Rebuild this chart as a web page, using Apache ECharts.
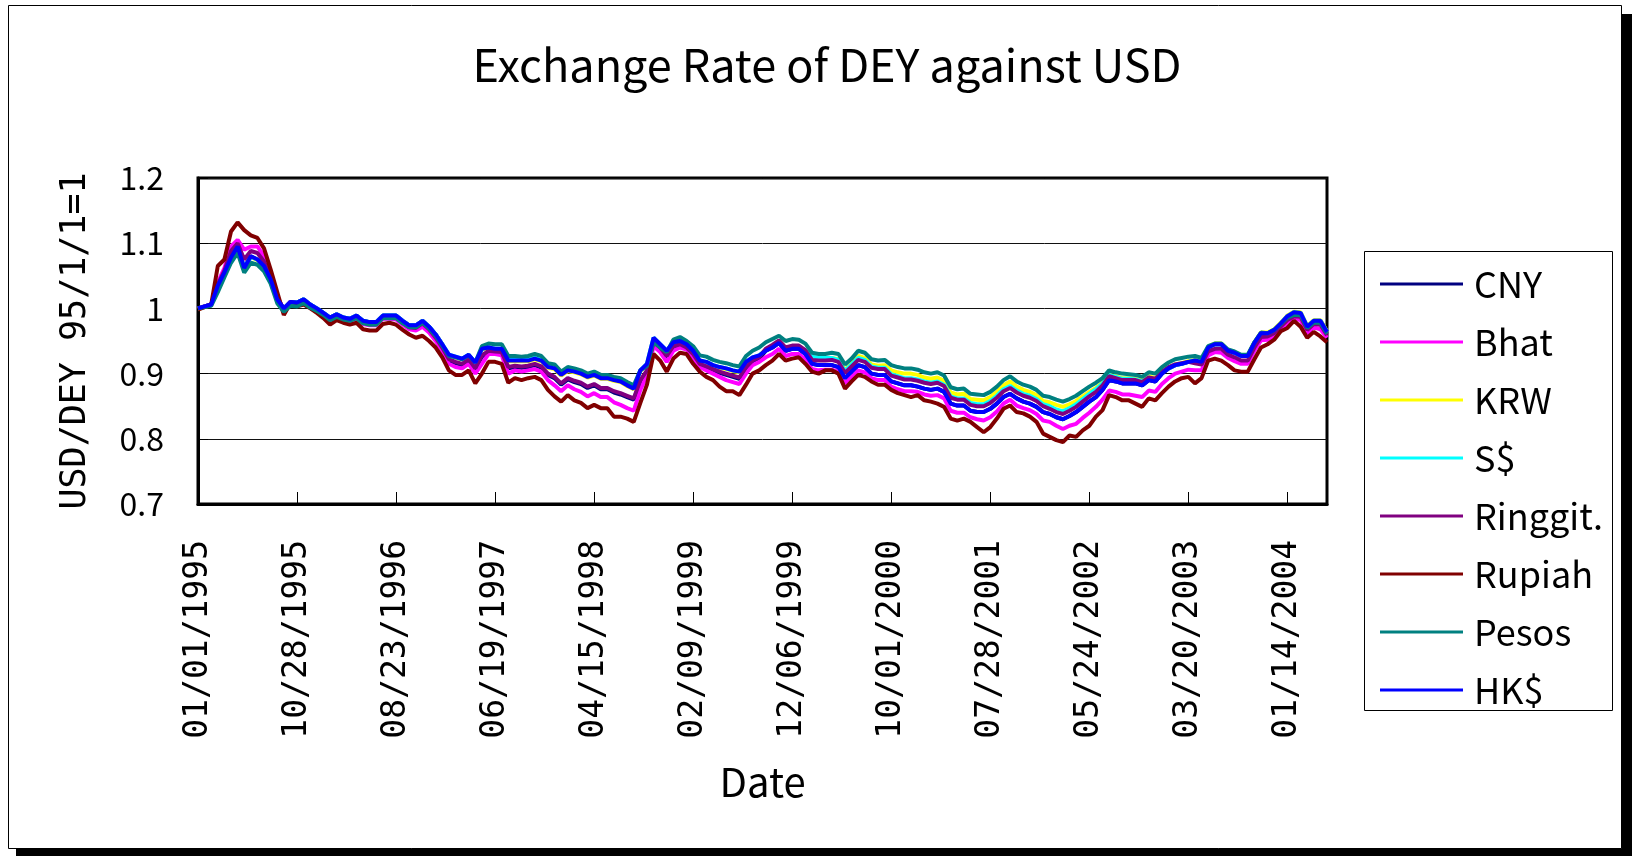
<!DOCTYPE html>
<html>
<head>
<meta charset="utf-8">
<script src="https://cdn.jsdelivr.net/npm/echarts@6/dist/echarts.min.js"></script>
<style>
  html, body { margin: 0; padding: 0; background: #fff; }
  #chart { width: 1638px; height: 856px; }
</style>
</head>
<body>
<div id="chart"></div>
<script>
// Sampled every 20 days starting 01/01/1995; tick labels fall every 15th sample (300 days).
const START_DATE = Date.UTC(1995, 0, 1);
const STEP_DAYS = 20;
const LABEL_EVERY = 15;

const seriesNames = ['CNY', 'Bhat', 'KRW', 'S$', 'Ringgit.', 'Rupiah', 'Pesos', 'HK$'];
const seriesColors = ['#000080', '#FF00FF', '#FFFF00', '#00FFFF', '#800080', '#800000', '#008080', '#0000FF'];
const yTicks = [0.7, 0.8, 0.9, 1.0, 1.1, 1.2];

const cny = [
  1.000, 1.003, 1.006, 1.035, 1.055, 1.078, 1.095, 1.062, 1.080, 1.075,
  1.065, 1.045, 1.014, 1.000, 1.010, 1.009, 1.014, 1.006, 1.000, 0.993,
  0.986, 0.991, 0.986, 0.984, 0.989, 0.981, 0.979, 0.979, 0.989, 0.989,
  0.989, 0.981, 0.974, 0.974, 0.981, 0.972, 0.960, 0.945, 0.920, 0.916,
  0.913, 0.920, 0.906, 0.926, 0.933, 0.932, 0.931, 0.908, 0.910, 0.909,
  0.910, 0.913, 0.909, 0.898, 0.893, 0.883, 0.891, 0.887, 0.884, 0.878,
  0.882, 0.876, 0.876, 0.871, 0.868, 0.864, 0.860, 0.888, 0.903, 0.946,
  0.938, 0.925, 0.940, 0.943, 0.938, 0.928, 0.913, 0.909, 0.905, 0.901,
  0.898, 0.895, 0.892, 0.908, 0.918, 0.923, 0.935, 0.940, 0.947, 0.935,
  0.938, 0.938, 0.930, 0.915, 0.913, 0.913, 0.913, 0.910, 0.893, 0.903,
  0.913, 0.910, 0.900, 0.898, 0.898, 0.888, 0.885, 0.882, 0.882, 0.880,
  0.877, 0.875, 0.877, 0.872, 0.854, 0.851, 0.851, 0.843, 0.841, 0.841,
  0.846, 0.854, 0.864, 0.869, 0.862, 0.857, 0.854, 0.849, 0.841, 0.838,
  0.833, 0.830, 0.835, 0.841, 0.849, 0.857, 0.864, 0.875, 0.890, 0.888,
  0.885, 0.885, 0.885, 0.882, 0.890, 0.888, 0.900, 0.908, 0.913, 0.915,
  0.918, 0.920, 0.918, 0.940, 0.945, 0.945, 0.935, 0.932, 0.927, 0.927,
  0.947, 0.962, 0.962, 0.967, 0.977, 0.988, 0.994, 0.993, 0.972, 0.981,
  0.981, 0.964
];

const bhat = [
  1.000, 1.003, 1.006, 1.040, 1.062, 1.095, 1.105, 1.090, 1.095, 1.095,
  1.080, 1.050, 1.018, 0.998, 1.010, 1.007, 1.012, 1.004, 0.998, 0.990,
  0.982, 0.988, 0.983, 0.980, 0.985, 0.976, 0.974, 0.974, 0.984, 0.984,
  0.983, 0.975, 0.968, 0.966, 0.972, 0.963, 0.950, 0.935, 0.915, 0.910,
  0.908, 0.915, 0.900, 0.915, 0.930, 0.930, 0.928, 0.900, 0.905, 0.903,
  0.905, 0.907, 0.903, 0.890, 0.882, 0.873, 0.882, 0.876, 0.872, 0.865,
  0.870, 0.864, 0.864, 0.856, 0.852, 0.847, 0.843, 0.875, 0.898, 0.942,
  0.933, 0.918, 0.935, 0.940, 0.937, 0.925, 0.910, 0.905, 0.900, 0.895,
  0.890, 0.887, 0.884, 0.900, 0.913, 0.918, 0.925, 0.930, 0.938, 0.927,
  0.930, 0.930, 0.922, 0.907, 0.905, 0.906, 0.906, 0.903, 0.885, 0.895,
  0.905, 0.902, 0.893, 0.890, 0.890, 0.880, 0.876, 0.873, 0.873, 0.872,
  0.868, 0.866, 0.867, 0.862, 0.843, 0.840, 0.840, 0.833, 0.830, 0.828,
  0.833, 0.842, 0.854, 0.860, 0.851, 0.847, 0.844, 0.838, 0.828, 0.826,
  0.820, 0.815, 0.820, 0.823, 0.832, 0.840, 0.849, 0.860, 0.874, 0.872,
  0.868, 0.868, 0.866, 0.864, 0.874, 0.872, 0.884, 0.893, 0.900, 0.903,
  0.906, 0.905, 0.905, 0.928, 0.933, 0.932, 0.924, 0.919, 0.915, 0.915,
  0.935, 0.951, 0.952, 0.958, 0.968, 0.976, 0.984, 0.982, 0.962, 0.971,
  0.968, 0.955
];

const krw = [
  0.999, 1.002, 1.005, 1.034, 1.054, 1.077, 1.094, 1.061, 1.079, 1.074,
  1.064, 1.044, 1.013, 0.999, 1.009, 1.008, 1.013, 1.005, 0.999, 0.992,
  0.985, 0.990, 0.985, 0.983, 0.988, 0.980, 0.978, 0.978, 0.988, 0.988,
  0.988, 0.980, 0.973, 0.973, 0.980, 0.971, 0.959, 0.944, 0.928, 0.925,
  0.922, 0.928, 0.916, 0.937, 0.939, 0.937, 0.937, 0.919, 0.919, 0.919,
  0.919, 0.922, 0.919, 0.909, 0.907, 0.897, 0.904, 0.902, 0.899, 0.894,
  0.897, 0.892, 0.892, 0.889, 0.887, 0.881, 0.876, 0.904, 0.914, 0.954,
  0.944, 0.934, 0.947, 0.949, 0.944, 0.934, 0.919, 0.917, 0.912, 0.909,
  0.907, 0.904, 0.902, 0.917, 0.924, 0.927, 0.937, 0.943, 0.950, 0.939,
  0.942, 0.942, 0.935, 0.924, 0.922, 0.922, 0.924, 0.922, 0.906, 0.915,
  0.927, 0.924, 0.914, 0.912, 0.913, 0.905, 0.902, 0.900, 0.900, 0.898,
  0.894, 0.892, 0.894, 0.889, 0.871, 0.868, 0.869, 0.861, 0.860, 0.859,
  0.864, 0.872, 0.882, 0.888, 0.880, 0.875, 0.872, 0.867, 0.858, 0.856,
  0.852, 0.849, 0.853, 0.858, 0.865, 0.872, 0.878, 0.886, 0.898, 0.896,
  0.893, 0.893, 0.892, 0.889, 0.896, 0.893, 0.901, 0.909, 0.914, 0.916,
  0.919, 0.921, 0.919, 0.941, 0.946, 0.946, 0.936, 0.933, 0.928, 0.928,
  0.948, 0.963, 0.963, 0.968, 0.978, 0.989, 0.995, 0.994, 0.973, 0.982,
  0.982, 0.965
];

const sgd = [
  1.000, 1.003, 1.006, 1.035, 1.055, 1.078, 1.094, 1.062, 1.079, 1.075,
  1.065, 1.045, 1.014, 1.000, 1.010, 1.009, 1.014, 1.006, 1.000, 0.993,
  0.986, 0.991, 0.986, 0.984, 0.989, 0.981, 0.979, 0.979, 0.989, 0.989,
  0.989, 0.981, 0.974, 0.974, 0.981, 0.972, 0.960, 0.945, 0.929, 0.926,
  0.923, 0.929, 0.917, 0.938, 0.940, 0.938, 0.938, 0.921, 0.921, 0.921,
  0.921, 0.924, 0.921, 0.911, 0.909, 0.899, 0.906, 0.904, 0.901, 0.896,
  0.899, 0.894, 0.894, 0.891, 0.889, 0.883, 0.878, 0.905, 0.915, 0.955,
  0.945, 0.935, 0.948, 0.950, 0.945, 0.935, 0.920, 0.918, 0.913, 0.910,
  0.908, 0.905, 0.903, 0.918, 0.925, 0.928, 0.936, 0.942, 0.949, 0.938,
  0.941, 0.941, 0.934, 0.926, 0.924, 0.924, 0.924, 0.921, 0.904, 0.914,
  0.924, 0.921, 0.911, 0.909, 0.909, 0.899, 0.896, 0.893, 0.893, 0.891,
  0.888, 0.886, 0.888, 0.883, 0.865, 0.862, 0.862, 0.855, 0.853, 0.853,
  0.858, 0.866, 0.876, 0.881, 0.874, 0.869, 0.866, 0.861, 0.853, 0.850,
  0.845, 0.842, 0.847, 0.853, 0.861, 0.869, 0.876, 0.885, 0.898, 0.895,
  0.892, 0.892, 0.891, 0.888, 0.894, 0.891, 0.901, 0.908, 0.913, 0.915,
  0.918, 0.920, 0.918, 0.940, 0.945, 0.945, 0.935, 0.932, 0.927, 0.927,
  0.947, 0.962, 0.962, 0.967, 0.977, 0.988, 0.994, 0.993, 0.972, 0.981,
  0.981, 0.964
];

const ringgit = [
  1.000, 1.003, 1.006, 1.037, 1.058, 1.088, 1.100, 1.075, 1.088, 1.085,
  1.072, 1.048, 1.016, 0.999, 1.010, 1.008, 1.013, 1.005, 0.999, 0.992,
  0.984, 0.990, 0.985, 0.982, 0.987, 0.979, 0.977, 0.977, 0.987, 0.987,
  0.986, 0.978, 0.971, 0.970, 0.977, 0.968, 0.955, 0.940, 0.922, 0.918,
  0.915, 0.922, 0.908, 0.928, 0.935, 0.934, 0.933, 0.910, 0.912, 0.911,
  0.912, 0.915, 0.911, 0.900, 0.895, 0.885, 0.893, 0.889, 0.886, 0.880,
  0.884, 0.878, 0.878, 0.873, 0.870, 0.866, 0.862, 0.890, 0.905, 0.948,
  0.940, 0.927, 0.942, 0.945, 0.940, 0.930, 0.915, 0.911, 0.907, 0.903,
  0.900, 0.897, 0.894, 0.910, 0.920, 0.925, 0.938, 0.944, 0.951, 0.940,
  0.943, 0.943, 0.936, 0.921, 0.920, 0.920, 0.921, 0.918, 0.901, 0.911,
  0.921, 0.918, 0.909, 0.907, 0.907, 0.897, 0.894, 0.891, 0.891, 0.889,
  0.886, 0.884, 0.886, 0.881, 0.863, 0.860, 0.860, 0.852, 0.850, 0.850,
  0.855, 0.863, 0.873, 0.878, 0.871, 0.866, 0.863, 0.858, 0.850, 0.846,
  0.841, 0.838, 0.843, 0.849, 0.857, 0.865, 0.872, 0.882, 0.896, 0.893,
  0.890, 0.890, 0.890, 0.887, 0.894, 0.892, 0.903, 0.910, 0.914, 0.916,
  0.918, 0.916, 0.914, 0.934, 0.938, 0.938, 0.929, 0.925, 0.920, 0.920,
  0.940, 0.956, 0.957, 0.962, 0.972, 0.982, 0.988, 0.987, 0.967, 0.976,
  0.975, 0.959
];

const rupiah = [
  0.998, 1.002, 1.006, 1.065, 1.075, 1.118, 1.132, 1.120, 1.112, 1.108,
  1.092, 1.060, 1.025, 0.990, 1.008, 1.003, 1.006, 1.000, 0.993, 0.985,
  0.975, 0.982, 0.978, 0.975, 0.978, 0.968, 0.966, 0.966, 0.976, 0.978,
  0.975, 0.967, 0.960, 0.955, 0.958, 0.950, 0.940, 0.925, 0.905, 0.898,
  0.898, 0.905, 0.885, 0.900, 0.918, 0.918, 0.915, 0.886, 0.893, 0.890,
  0.893, 0.895, 0.890, 0.875, 0.865, 0.857, 0.867, 0.859, 0.855, 0.847,
  0.852, 0.847, 0.847, 0.834, 0.834, 0.831, 0.826, 0.855, 0.883, 0.930,
  0.920, 0.903, 0.923, 0.932, 0.930, 0.915, 0.903, 0.895, 0.890, 0.880,
  0.873, 0.873, 0.867, 0.883, 0.900, 0.905, 0.913, 0.920, 0.930, 0.920,
  0.923, 0.925, 0.915, 0.903, 0.900, 0.905, 0.905, 0.900, 0.877, 0.888,
  0.898, 0.895, 0.888, 0.883, 0.883, 0.875, 0.870, 0.867, 0.864, 0.867,
  0.859, 0.857, 0.854, 0.849, 0.831, 0.828, 0.831, 0.826, 0.818, 0.810,
  0.818, 0.831, 0.846, 0.851, 0.841, 0.839, 0.834, 0.826, 0.808, 0.803,
  0.798, 0.795, 0.805, 0.803, 0.813, 0.820, 0.834, 0.844, 0.867, 0.864,
  0.859, 0.859, 0.854, 0.849, 0.862, 0.859, 0.870, 0.880, 0.888, 0.893,
  0.895, 0.885, 0.893, 0.920, 0.923, 0.920, 0.913, 0.905, 0.903, 0.903,
  0.922, 0.940, 0.945, 0.952, 0.965, 0.970, 0.981, 0.972, 0.955, 0.964,
  0.957, 0.948
];

const pesos = [
  1.000, 1.002, 1.004, 1.025, 1.048, 1.070, 1.085, 1.055, 1.070, 1.067,
  1.057, 1.038, 1.008, 0.995, 1.004, 1.003, 1.008, 1.001, 0.996, 0.990,
  0.982, 0.987, 0.983, 0.981, 0.985, 0.977, 0.975, 0.975, 0.985, 0.985,
  0.985, 0.977, 0.971, 0.971, 0.978, 0.969, 0.958, 0.943, 0.927, 0.925,
  0.922, 0.928, 0.917, 0.942, 0.946, 0.945, 0.945, 0.927, 0.927, 0.926,
  0.927, 0.930, 0.927, 0.916, 0.914, 0.903, 0.910, 0.908, 0.905, 0.900,
  0.903, 0.898, 0.898, 0.895, 0.893, 0.887, 0.882, 0.905, 0.912, 0.948,
  0.940, 0.933, 0.952, 0.956, 0.950, 0.942, 0.928, 0.926, 0.921, 0.918,
  0.916, 0.913, 0.911, 0.927, 0.935, 0.940, 0.948, 0.953, 0.958, 0.950,
  0.953, 0.952, 0.946, 0.932, 0.930, 0.930, 0.932, 0.930, 0.914, 0.923,
  0.935, 0.932, 0.922, 0.920, 0.921, 0.913, 0.910, 0.908, 0.908, 0.906,
  0.902, 0.900, 0.902, 0.897, 0.879, 0.876, 0.877, 0.869, 0.868, 0.867,
  0.872, 0.880, 0.890, 0.896, 0.888, 0.883, 0.880, 0.875, 0.866, 0.864,
  0.860, 0.857, 0.861, 0.866, 0.873, 0.880, 0.886, 0.893, 0.905, 0.902,
  0.900, 0.899, 0.898, 0.895, 0.902, 0.900, 0.910, 0.917, 0.922, 0.924,
  0.926, 0.927, 0.924, 0.942, 0.946, 0.946, 0.937, 0.934, 0.929, 0.929,
  0.948, 0.963, 0.962, 0.967, 0.976, 0.986, 0.990, 0.990, 0.970, 0.978,
  0.978, 0.961
];

const hkd = [
  1.000, 1.003, 1.006, 1.035, 1.055, 1.078, 1.095, 1.062, 1.080, 1.075,
  1.065, 1.045, 1.014, 1.000, 1.010, 1.009, 1.014, 1.006, 1.000, 0.993,
  0.986, 0.991, 0.986, 0.984, 0.989, 0.981, 0.979, 0.979, 0.989, 0.989,
  0.989, 0.981, 0.974, 0.974, 0.981, 0.972, 0.960, 0.945, 0.929, 0.926,
  0.923, 0.929, 0.917, 0.938, 0.940, 0.938, 0.938, 0.920, 0.920, 0.920,
  0.920, 0.923, 0.920, 0.910, 0.908, 0.898, 0.905, 0.903, 0.900, 0.895,
  0.898, 0.893, 0.893, 0.890, 0.888, 0.882, 0.877, 0.905, 0.915, 0.955,
  0.945, 0.935, 0.948, 0.950, 0.945, 0.935, 0.920, 0.918, 0.913, 0.910,
  0.908, 0.905, 0.903, 0.918, 0.925, 0.928, 0.935, 0.940, 0.947, 0.935,
  0.938, 0.938, 0.930, 0.915, 0.913, 0.913, 0.913, 0.910, 0.893, 0.903,
  0.913, 0.910, 0.900, 0.898, 0.898, 0.888, 0.885, 0.882, 0.882, 0.880,
  0.877, 0.875, 0.877, 0.872, 0.854, 0.851, 0.851, 0.843, 0.841, 0.841,
  0.846, 0.854, 0.864, 0.869, 0.862, 0.857, 0.854, 0.849, 0.841, 0.838,
  0.833, 0.830, 0.835, 0.841, 0.849, 0.857, 0.864, 0.875, 0.890, 0.888,
  0.885, 0.885, 0.885, 0.882, 0.890, 0.888, 0.900, 0.908, 0.913, 0.915,
  0.918, 0.920, 0.918, 0.940, 0.945, 0.945, 0.935, 0.932, 0.927, 0.927,
  0.947, 0.962, 0.962, 0.967, 0.977, 0.988, 0.994, 0.993, 0.972, 0.981,
  0.981, 0.964
];

const seriesValues = [cny, bhat, krw, sgd, ringgit, rupiah, pesos, hkd];

function pad2(n) { return (n < 10 ? '0' : '') + n; }
function formatDate(ms) {
  const d = new Date(ms);
  return pad2(d.getUTCMonth() + 1) + '/' + pad2(d.getUTCDate()) + '/' + d.getUTCFullYear();
}
const dates = hkd.map((_, i) => formatDate(START_DATE + i * STEP_DAYS * 86400000));

const GOTHIC = '"Noto Sans CJK JP", "Liberation Sans", sans-serif';
const MONO = '"DejaVu Sans Mono", "Liberation Mono", monospace';

const chart = echarts.init(document.getElementById('chart'));
chart.setOption({
  animation: false,
  backgroundColor: '#ffffff',
  graphic: [
    // drop shadow and frame of the chart area
    { type: 'rect', z: -20, shape: { x: 16, y: 14, width: 1616, height: 842 }, style: { fill: '#000' } },
    { type: 'rect', z: -19, shape: { x: 8.5, y: 5.5, width: 1613, height: 843 }, style: { fill: '#fff', stroke: '#000', lineWidth: 1 } },
    // legend box
    { type: 'rect', z: -18, shape: { x: 1364.5, y: 251.5, width: 248, height: 459 }, style: { fill: '#fff', stroke: '#000', lineWidth: 1 } },
    { type: 'text', z: 10, x: 827, y: 65,
      style: { text: 'Exchange Rate of DEY against USD', fill: '#000', font: '45px ' + GOTHIC, align: 'center', verticalAlign: 'middle' } }
  ],
  legend: {
    orient: 'vertical',
    left: 1380,
    top: 266,
    padding: 0,
    itemWidth: 83,
    itemHeight: 3,
    itemGap: 22,
    icon: 'rect',
    selectedMode: false,
    data: seriesNames,
    textStyle: { color: '#000', fontSize: 36, lineHeight: 36, fontFamily: GOTHIC, padding: [0, 0, 0, 6] }
  },
  grid: {
    left: 198, top: 178, right: 311, bottom: 352,
    show: true, borderColor: '#000', borderWidth: 3, backgroundColor: 'transparent'
  },
  xAxis: {
    type: 'category',
    data: dates,
    boundaryGap: false,
    name: 'Date',
    nameLocation: 'middle',
    nameGap: 258,
    nameTextStyle: { color: '#000', fontSize: 40, lineHeight: 40, fontFamily: GOTHIC },
    axisLine: { lineStyle: { color: '#000', width: 3 } },
    axisTick: { inside: true, length: 12, interval: LABEL_EVERY - 1, lineStyle: { color: '#000', width: 1 } },
    axisLabel: { interval: LABEL_EVERY - 1, rotate: 90, margin: 36, color: '#000', fontSize: 33, fontFamily: MONO },
    splitLine: { show: false }
  },
  yAxis: {
    type: 'value',
    min: yTicks[0],
    max: yTicks[yTicks.length - 1],
    interval: 0.1,
    name: 'USD/DEY 95/1/1=1',
    nameLocation: 'middle',
    nameGap: 105,
    nameTextStyle: { color: '#000', fontSize: 35, lineHeight: 35, fontFamily: MONO },
    axisLine: { show: true, lineStyle: { color: '#000', width: 3 } },
    axisTick: { show: true, inside: true, length: 10, lineStyle: { color: '#000', width: 1 } },
    axisLabel: { margin: 34, color: '#000', fontSize: 32, fontFamily: GOTHIC, padding: [10, 0, 0, 0],
      formatter: v => String(+v.toFixed(1)) },
    splitLine: { show: true, lineStyle: { color: '#111', width: 1 } }
  },
  series: seriesNames.map((name, k) => ({
    name: name,
    type: 'line',
    data: seriesValues[k],
    showSymbol: false,
    symbol: 'none',
    color: seriesColors[k],
    lineStyle: { color: seriesColors[k], width: 4 },
    emphasis: { disabled: true }
  }))
});
</script>
</body>
</html>
